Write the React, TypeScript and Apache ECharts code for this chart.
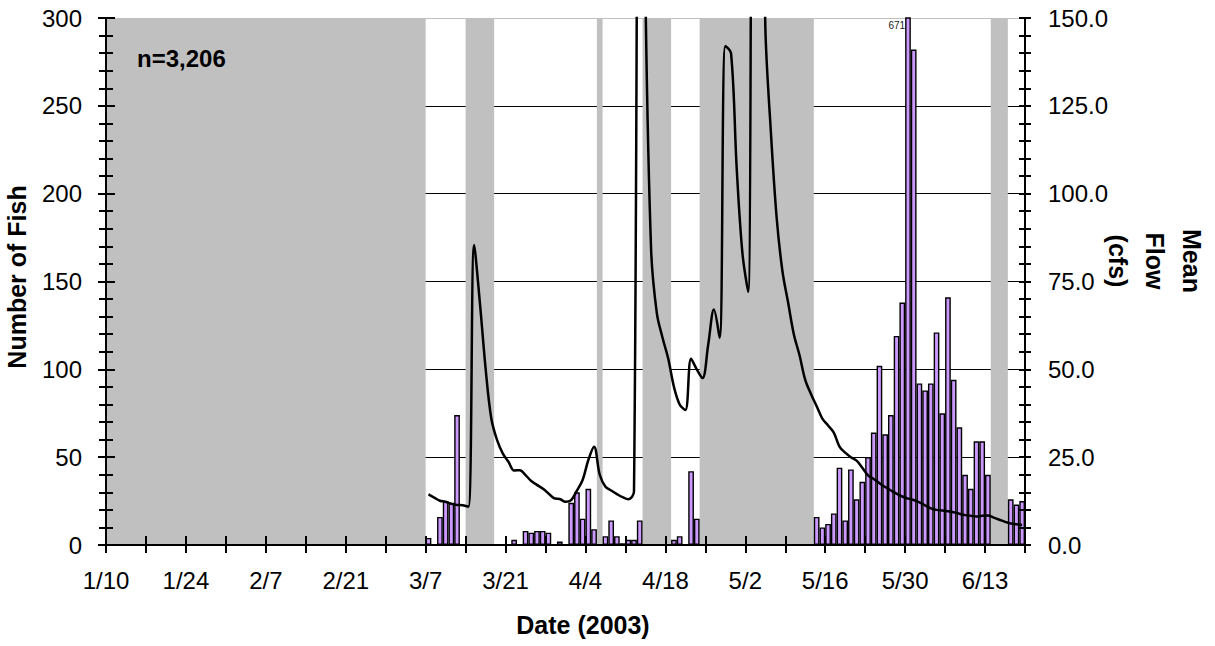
import React, { useEffect, useRef } from 'react';
import * as echarts from 'echarts';

// Day 0 = 1/10/2003, axis ends at day 161 = 6/20/2003
const totalDays = 161;
const xTickLabels = ['1/10', '1/24', '2/7', '2/21', '3/7', '3/21', '4/4', '4/18', '5/2', '5/16', '5/30', '6/13'];

// daily values start on 3/7 (day 56)
const dataStartDay = 56;

// Number of fish per day, 3/7 .. 6/19 (null = not sampled)
const fishCounts: (number | null)[] = [
  4, 0, 16, 25, 24, 74, 0,
  null, null, null, null, null,
  0, 0, 0, 3, 0, 8, 7, 8, 8, 7, 0, 2, 0, 24, 30, 15, 32, 9,
  null,
  5, 14, 5, 1, 3, 3, 14,
  null, null, null, null, null,
  3, 5, 0, 42, 15,
  null, null, null, null, null, null, null, null, null, null,
  null, null, null, null, null, null, null, null, null, null,
  16, 10, 12, 18, 44, 14, 43, 26, 36, 50, 64, 102, 63, 74, 119, 138, 671, 282,
  92, 88, 92, 121, 75, 141, 94, 67, 40, 32, 59, 59, 40,
  null, null, null,
  26, 23, 25,
];

// Mean flow (cfs) per day, 3/7 .. 6/19
const meanFlow: number[] = [
  14.4, 13.5, 12.6, 12.3, 11.7, 11.4, 11.3, 10.9, 85.4, 69,
  50.3, 36, 29.9, 26.1, 23.7, 21.2, 21.3, 19.9, 18.2, 17.1,
  16.1, 14.7, 13.3, 13.1, 12.3, 12.8, 15.5, 18.5, 24.2, 28,
  20, 16.6, 15.5, 14.5, 13.6, 13, 15.2, 320, 158, 84,
  66, 59, 53, 45, 40, 38.4, 53, 50, 47.5, 57,
  67, 59, 142, 140, 107, 83, 72, 340, 260, 148,
  117, 93, 78, 69, 60, 54, 47, 43, 39.5, 36,
  34, 32, 28, 26.3, 25, 24, 22, 19.8, 18.8, 17.6,
  16.5, 15.5, 14.6, 13.8, 13.2, 12.8, 12.1, 11.3, 10.4, 10,
  9.8, 9.6, 9.3, 8.9, 8.5, 8.3, 8.1, 8.3, 8.4, 7.8,
  7.2, 6.6, 6.1, 5.9, 5.7,
];

// periods without sampling (day ranges, start inclusive / end exclusive)
const noSamplingPeriods: [number, number][] = [
  [0, 56], [63, 68], [86, 87], [94, 99], [104, 124], [155, 158],
];

const fishAxis = { min: 0, max: 300, interval: 50 };
const flowAxis = { min: 0, max: 150, interval: 25 };
const sampleSize = 'n=3,206';

export default function App() {
  const ref = useRef<HTMLDivElement>(null);

  useEffect(() => {
    if (!ref.current) return;
    const chart = echarts.init(ref.current, null, { renderer: 'svg' });
    const font = "'Liberation Sans', Arial, Helvetica, sans-serif";
    const gridLeft = 106;
    const gridRightX = 1025;
    const gridTop = 18;
    const gridBottomY = 545;
    const W = 1215;
    const H = 646;
    const barWidth = (gridRightX - gridLeft) / totalDays;

    const labelStyle = { fontFamily: font, fontSize: 24, color: '#000' };
    const axisLineStyle = { color: '#000', width: 2 };
    const minorStyle = { color: '#000', width: 2 };

    const barData: any[] = [];
    fishCounts.forEach((v, i) => {
      if (v === null) return;
      const x = dataStartDay + i + 0.5;
      if (v > fishAxis.max) {
        barData.push({
          value: [x, v],
          label: {
            show: true,
            formatter: String(v),
            position: [0, 3],
            align: 'right',
            verticalAlign: 'top',
            fontFamily: font,
            fontSize: 10,
            color: '#222',
          },
        });
      } else {
        barData.push([x, v]);
      }
    });

    const lineData = meanFlow.map((v, i) => [dataStartDay + i + 0.5, v]);

    const xBase = {
      type: 'value',
      min: 0,
      max: totalDays,
      interval: 7,
      position: 'bottom',
      z: 5,
      splitLine: { show: false },
    };

    const option: any = {
      animation: false,
      backgroundColor: '#fff',
      grid: {
        left: gridLeft,
        right: W - gridRightX,
        top: gridTop,
        bottom: H - gridBottomY,
        containLabel: false,
      },
      xAxis: [
        {
          ...xBase,
          axisLine: { show: true, onZero: false, lineStyle: axisLineStyle },
          axisTick: { show: true, inside: false, length: 8, lineStyle: axisLineStyle },
          axisLabel: {
            ...labelStyle,
            margin: 23,
            formatter: (v: number) => (v % 14 === 0 ? xTickLabels[v / 14] ?? '' : ''),
          },
        },
        {
          ...xBase,
          axisLine: { show: false, onZero: false },
          axisTick: { show: true, inside: true, length: 9, lineStyle: axisLineStyle },
          axisLabel: { show: false },
        },
      ],
      yAxis: [
        {
          type: 'value', position: 'left', ...fishAxis, z: 5,
          axisLine: { show: true, onZero: false, lineStyle: axisLineStyle },
          axisTick: { show: true, inside: false, length: 8, lineStyle: axisLineStyle },
          minorTick: { show: true, splitNumber: 5, length: 7, lineStyle: minorStyle },
          axisLabel: { ...labelStyle, margin: 24 },
          splitLine: { show: false },
        },
        {
          type: 'value', position: 'right', ...flowAxis, z: 5,
          axisLine: { show: true, onZero: false, lineStyle: axisLineStyle },
          axisTick: { show: true, inside: false, length: 6, lineStyle: axisLineStyle },
          minorTick: { show: true, splitNumber: 5, length: 6, lineStyle: minorStyle },
          axisLabel: { ...labelStyle, margin: 23, formatter: (v: number) => v.toFixed(1) },
          splitLine: { show: false },
        },
        {
          type: 'value', position: 'left', ...fishAxis, z: 5,
          axisLine: { show: false, onZero: false },
          axisTick: { show: true, inside: true, length: 9, lineStyle: axisLineStyle },
          minorTick: { show: true, splitNumber: 5, length: 7, lineStyle: minorStyle },
          axisLabel: { show: false },
          splitLine: { show: false },
        },
        {
          type: 'value', position: 'right', ...flowAxis, z: 5,
          axisLine: { show: false, onZero: false },
          axisTick: { show: true, inside: true, length: 6, lineStyle: axisLineStyle },
          minorTick: { show: true, splitNumber: 5, length: 6, lineStyle: minorStyle },
          axisLabel: { show: false },
          splitLine: { show: false },
        },
        {
          type: 'value', position: 'left', ...fishAxis, z: 0,
          axisLine: { show: false, onZero: false },
          axisTick: { show: false },
          axisLabel: { show: false },
          splitLine: {
            show: true,
            lineStyle: {
              color: ['#000', '#000', '#000', '#000', '#000', '#000', '#c0c0c0'],
              width: 1,
            },
          },
        },
      ],
      series: [
        {
          type: 'bar',
          name: 'Number of Fish',
          xAxisIndex: 0,
          yAxisIndex: 0,
          barWidth,
          z: 2,
          clip: true,
          silent: true,
          itemStyle: { color: '#CC99FF', borderColor: '#000', borderWidth: 1.4 },
          emphasis: { disabled: true },
          data: barData,
          markArea: {
            silent: true,
            z: 1,
            itemStyle: { color: '#C0C0C0', opacity: 1, borderWidth: 0 },
            label: { show: false },
            emphasis: { disabled: true },
            data: noSamplingPeriods.map(([a, b]) => [{ xAxis: a }, { xAxis: b }]),
          },
        },
        {
          type: 'line',
          name: 'Mean Flow (cfs)',
          xAxisIndex: 0,
          yAxisIndex: 1,
          z: 3,
          clip: true,
          silent: true,
          symbol: 'none',
          smooth: 0.35,
          lineStyle: { color: '#000', width: 2.5 },
          emphasis: { disabled: true },
          data: lineData,
        },
      ],
      graphic: [
        {
          type: 'text', x: 137, y: 58, z: 100,
          style: { text: sampleSize, fontFamily: font, fontSize: 24, fontWeight: 'bold', fill: '#000', align: 'left', verticalAlign: 'middle' },
        },
        {
          type: 'text', x: 17, y: 277, z: 100, rotation: Math.PI / 2,
          style: { text: 'Number of Fish', fontFamily: font, fontSize: 25, fontWeight: 'bold', fill: '#000', align: 'center', verticalAlign: 'middle' },
        },
        {
          type: 'text', x: 583, y: 625, z: 100,
          style: { text: 'Date (2003)', fontFamily: font, fontSize: 25, fontWeight: 'bold', fill: '#000', align: 'center', verticalAlign: 'middle' },
        },
        {
          type: 'text', x: 1155, y: 261, z: 100, rotation: -Math.PI / 2,
          style: { text: 'Mean\nFlow\n(cfs)', fontFamily: font, fontSize: 25, fontWeight: 'bold', lineHeight: 37, fill: '#000', align: 'center', verticalAlign: 'middle' },
        },
      ],
    };

    chart.setOption(option);
    return () => chart.dispose();
  }, []);

  return (
    <div
      ref={ref}
      style={{ position: 'fixed', left: 0, top: 0, width: 1215, height: 646, background: '#fff' }}
    />
  );
}
